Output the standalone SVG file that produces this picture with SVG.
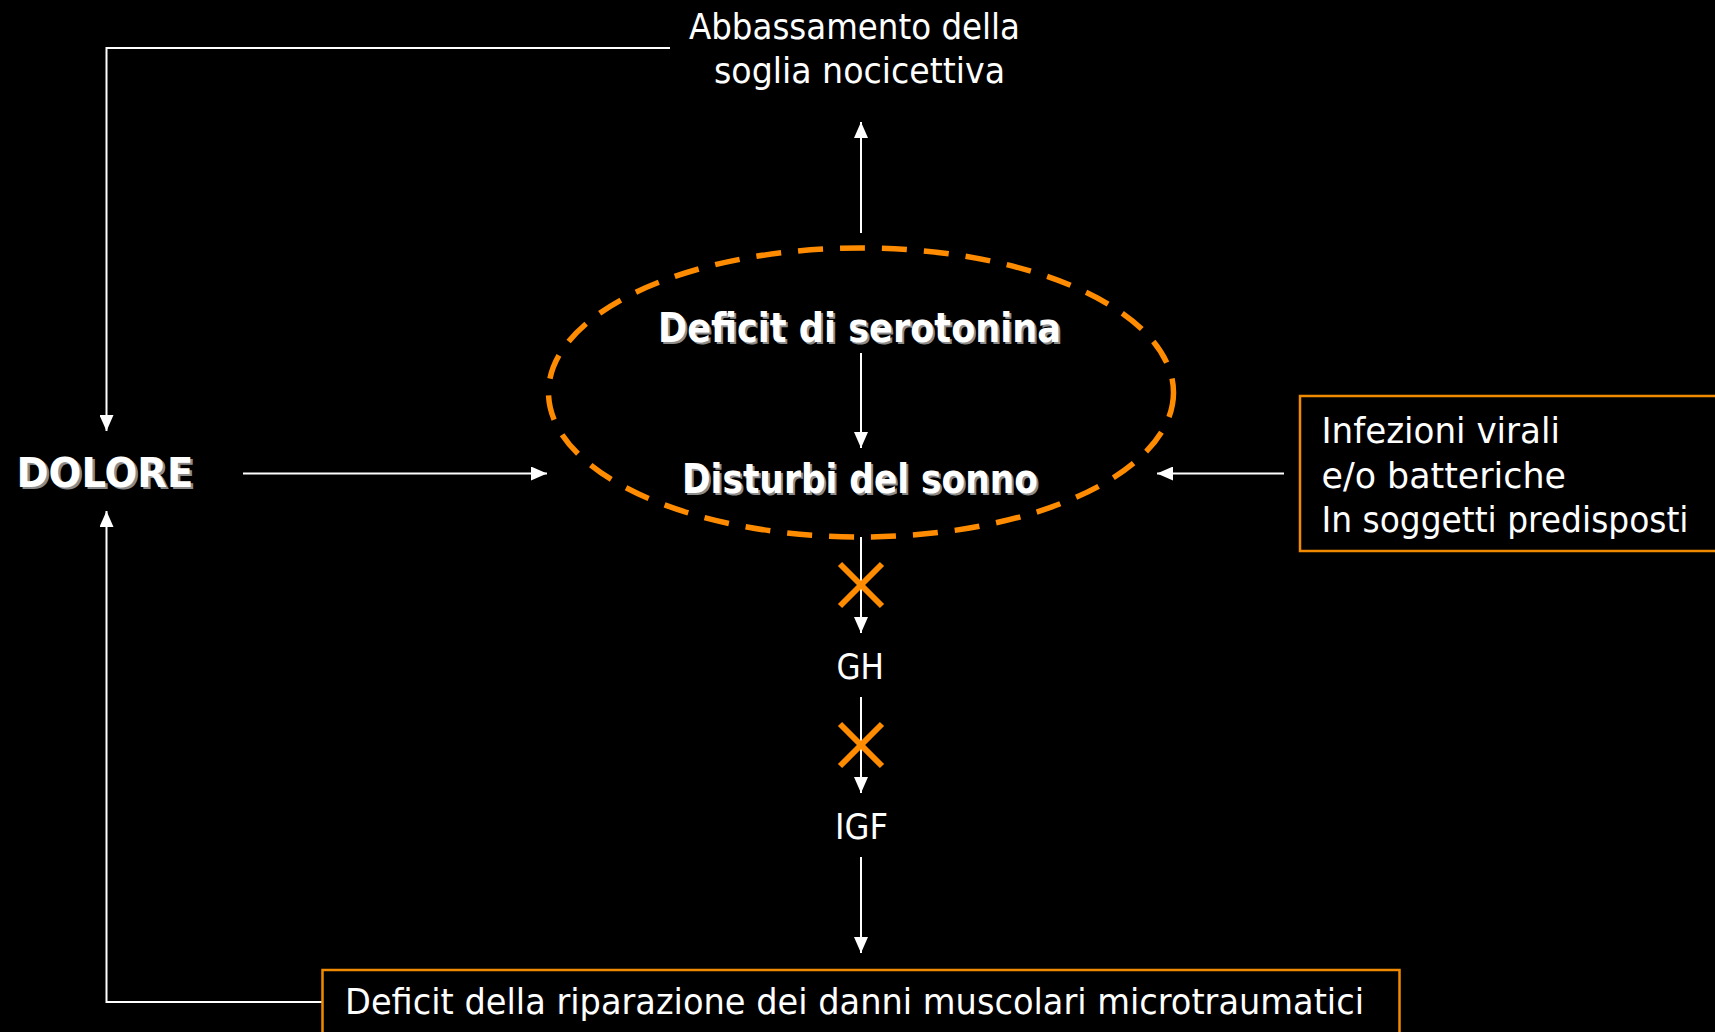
<svg xmlns="http://www.w3.org/2000/svg" width="1715" height="1032" viewBox="0 0 1715 1032">
<style>
.t{font-family:"DejaVu Sans Condensed","DejaVu Sans",sans-serif;fill:#fff;font-size:35px}
.b{font-family:"DejaVu Sans Condensed","DejaVu Sans",sans-serif;font-weight:bold;font-size:40px}
.w{fill:#fff}
.s{fill:#8c8c8c}
.ln{stroke:#fff;stroke-width:2;fill:none}
.box{fill:none;stroke:#f08a00;stroke-width:2.5}
.x{stroke:#ff8c00;stroke-width:6;stroke-linecap:butt}
</style>
<defs>
<marker id="ah" markerUnits="userSpaceOnUse" markerWidth="16" markerHeight="14" viewBox="0 0 16 14" refX="16" refY="7" orient="auto">
<path d="M0,0 L16,7 L0,14 z" fill="#fff"/>
</marker>
</defs>
<rect width="1715" height="1032" fill="#000"/>

<g id="connectors">
<polyline class="ln" points="670,48 106.5,48 106.5,431" marker-end="url(#ah)"/>
<polyline class="ln" points="322,1002 106.5,1002 106.5,511" marker-end="url(#ah)"/>
<line class="ln" x1="243" y1="473.5" x2="547" y2="473.5" marker-end="url(#ah)"/>
<line class="ln" x1="1284" y1="473.5" x2="1157" y2="473.5" marker-end="url(#ah)"/>
<line class="ln" x1="861" y1="233" x2="861" y2="122" marker-end="url(#ah)"/>
<line class="ln" x1="861" y1="353" x2="861" y2="448" marker-end="url(#ah)"/>
<line class="ln" x1="861" y1="537" x2="861" y2="633" marker-end="url(#ah)"/>
<line class="ln" x1="861" y1="697" x2="861" y2="793" marker-end="url(#ah)"/>
<line class="ln" x1="861" y1="857" x2="861" y2="953" marker-end="url(#ah)"/>
</g>

<g id="abbassamento">
<text class="t" x="689" y="39" textLength="331" lengthAdjust="spacingAndGlyphs">Abbassamento della</text>
<text class="t" x="714" y="83" textLength="291" lengthAdjust="spacingAndGlyphs">soglia nocicettiva</text>
</g>

<g id="dolore">
<text class="b s" x="19" y="489" font-size="46" textLength="177" lengthAdjust="spacingAndGlyphs">DOLORE</text>
<text class="b w" x="16.5" y="487" font-size="46" textLength="177" lengthAdjust="spacingAndGlyphs">DOLORE</text>
</g>

<g id="ellipse">
<ellipse cx="861" cy="392.5" rx="312.5" ry="144.5" fill="none" stroke="#ff8c00" stroke-width="5.5" stroke-dasharray="25 17"/>
</g>

<g id="serotonina">
<text class="b s" x="660" y="344" textLength="403" lengthAdjust="spacingAndGlyphs">Deficit di serotonina</text>
<text class="b w" x="658" y="342" textLength="403" lengthAdjust="spacingAndGlyphs">Deficit di serotonina</text>
</g>

<g id="sonno">
<text class="b s" x="684" y="495" textLength="356" lengthAdjust="spacingAndGlyphs">Disturbi del sonno</text>
<text class="b w" x="682" y="493" textLength="356" lengthAdjust="spacingAndGlyphs">Disturbi del sonno</text>
</g>

<g id="infezioni">
<rect class="box" x="1300" y="396" width="430" height="155"/>
<text class="t" x="1321.5" y="442.5" textLength="238.5" lengthAdjust="spacingAndGlyphs">Infezioni virali</text>
<text class="t" x="1321.5" y="488" textLength="244.5" lengthAdjust="spacingAndGlyphs">e/o batteriche</text>
<text class="t" x="1321.5" y="531.5" textLength="367" lengthAdjust="spacingAndGlyphs">In soggetti predisposti</text>
</g>

<g id="x1">
<line class="x" x1="840" y1="564" x2="882" y2="606"/>
<line class="x" x1="882" y1="564" x2="840" y2="606"/>
</g>

<g id="gh">
<text class="t" x="836.5" y="679" textLength="47.5" lengthAdjust="spacingAndGlyphs">GH</text>
</g>

<g id="x2">
<line class="x" x1="840" y1="724" x2="882" y2="766"/>
<line class="x" x1="882" y1="724" x2="840" y2="766"/>
</g>

<g id="igf">
<text class="t" x="835" y="839" textLength="53" lengthAdjust="spacingAndGlyphs">IGF</text>
</g>

<g id="riparazione">
<rect class="box" x="322.5" y="970" width="1077" height="80"/>
<text class="t" x="345" y="1014" textLength="1019" lengthAdjust="spacingAndGlyphs">Deficit della riparazione dei danni muscolari microtraumatici</text>
</g>
</svg>
